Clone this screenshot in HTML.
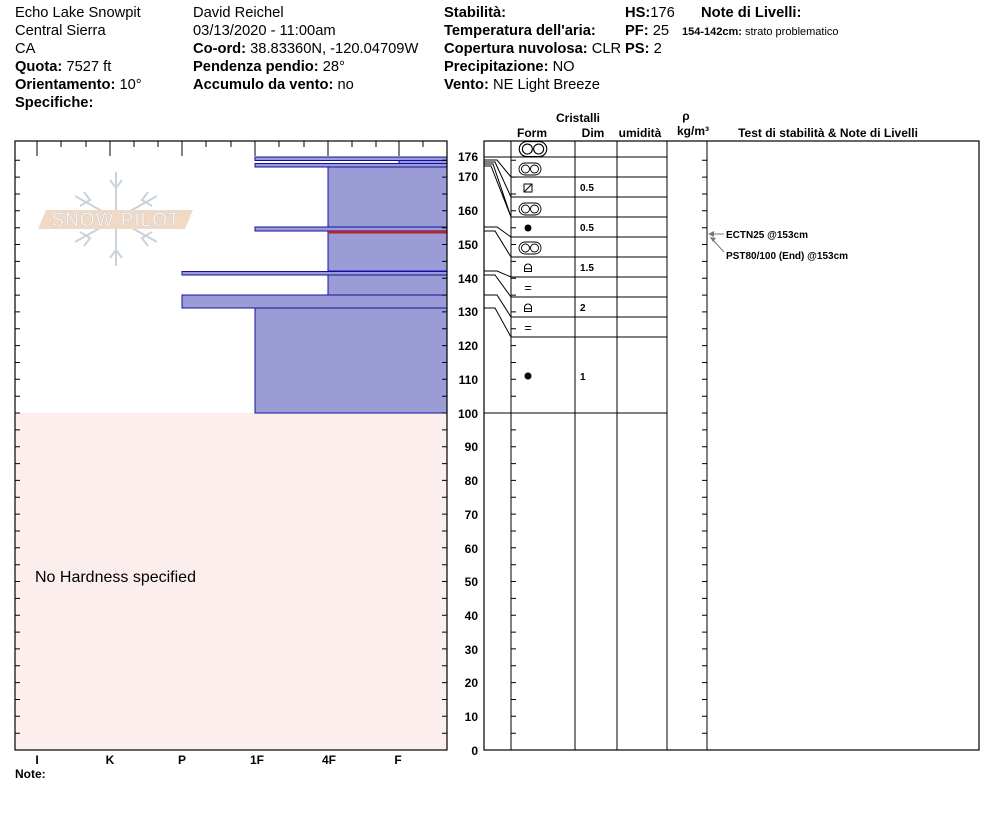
<!DOCTYPE html>
<html><head><meta charset="utf-8"><style>
html,body{margin:0;padding:0;background:#fff;}
svg{display:block;font-family:"Liberation Sans",Arial,sans-serif;}
.h{font-size:14.7px;fill:#000;}
.b{font-weight:bold;}
.d{font-size:12px;font-weight:bold;text-anchor:end;}
.s{font-size:10px;font-weight:bold;}
</style></head><body>
<svg width="994" height="840" viewBox="0 0 994 840" xmlns="http://www.w3.org/2000/svg">
<defs>
<g id="fc" fill="none" stroke="#000" stroke-width="0.9">
<rect x="-11" y="-6" width="22" height="12" rx="6"/>
<circle cx="-4.5" cy="0" r="4"/><circle cx="4.5" cy="0" r="4"/>
</g>
<g id="cup" fill="none" stroke="#000" stroke-width="1">
<path d="M-3.5 3.5V-0.5A3.5 3.5 0 0 1 3.5 -0.5V3.5Z M-3.5 0.8H3.5"/>
</g>
</defs>
<g class="h">
<text x="15" y="17">Echo Lake Snowpit</text>
<text x="15" y="35">Central Sierra</text>
<text x="15" y="53">CA</text>
<text x="15" y="71"><tspan class="b">Quota:</tspan> 7527 ft</text>
<text x="15" y="89"><tspan class="b">Orientamento:</tspan> 10°</text>
<text x="15" y="107" class="b">Specifiche:</text>
<text x="193" y="17">David Reichel</text>
<text x="193" y="35">03/13/2020 - 11:00am</text>
<text x="193" y="53"><tspan class="b">Co-ord:</tspan> 38.83360N, -120.04709W</text>
<text x="193" y="71"><tspan class="b">Pendenza pendio:</tspan> 28°</text>
<text x="193" y="89"><tspan class="b">Accumulo da vento:</tspan> no</text>
<text x="444" y="17" class="b">Stabilità:</text>
<text x="444" y="35" class="b">Temperatura dell'aria:</text>
<text x="444" y="53"><tspan class="b">Copertura nuvolosa:</tspan> CLR</text>
<text x="444" y="71"><tspan class="b">Precipitazione:</tspan> NO</text>
<text x="444" y="89"><tspan class="b">Vento:</tspan>  NE Light Breeze</text>
<text x="625" y="17"><tspan class="b">HS:</tspan>176</text>
<text x="625" y="35"><tspan class="b">PF:</tspan> 25</text>
<text x="625" y="53"><tspan class="b">PS:</tspan> 2</text>
<text x="701" y="17" class="b">Note di Livelli:</text>
</g>
<text x="682" y="35" font-size="11"><tspan font-weight="bold">154-142cm:</tspan> strato problematico</text>

<rect x="15" y="413" width="432" height="337" fill="#fdeeee"/>
<g opacity="0.9">
<g stroke="#c5ced6" stroke-width="2" fill="none">
<path d="M116 172 V266 M75 196 L157 242 M157 196 L75 242"/>
<path d="M110 180 L116 188 L122 180 M110 258 L116 250 L122 258 M84 192 L90 200 L80 206 M148 192 L142 200 L152 206 M84 246 L90 238 L80 232 M148 246 L142 238 L152 232"/>
</g>
<polygon points="46,210 193,210 185,229 38,229" fill="#f0d5bf"/>
<text x="116" y="226" font-size="19" fill="#fff" stroke="#c8c8c8" stroke-width="0.6" text-anchor="middle" letter-spacing="1">SNOW PILOT</text>
</g>
<g fill="#9b9bd6" stroke="#1010a0" stroke-width="1">
<rect x="328" y="167" width="119" height="60"/>
<rect x="328" y="231" width="119" height="40"/>
<rect x="328" y="275" width="119" height="20"/>
<rect x="255" y="308" width="192" height="105"/>
<rect x="255" y="157" width="192" height="3.5"/>
<rect x="255" y="163.5" width="192" height="3.5"/>
<rect x="255" y="227" width="192" height="4"/>
<rect x="182" y="271.5" width="265" height="3.5"/>
<rect x="182" y="295" width="265" height="13"/>
<rect x="399" y="160.5" width="48" height="3"/>
</g>
<rect x="328" y="231" width="119" height="2.5" fill="#c02020"/>
<rect x="15" y="141" width="432" height="609" fill="none" stroke="#000" stroke-width="1.2"/>
<path stroke="#000" stroke-width="1" fill="none" d="M37 141v15M110 141v15M182 141v15M255 141v15M328 141v15M399 141v15M61 141v6M86 141v6M134 141v6M158 141v6M206 141v6M231 141v6M279 141v6M304 141v6M352 141v6M376 141v6M423 141v6"/>
<g id="lt" stroke="#000" stroke-width="1">
<path d="M15 733.2h5M15 716.3h5M15 699.5h5M15 682.6h5M15 665.8h5M15 648.9h5M15 632.1h5M15 615.2h5M15 598.4h5M15 581.5h5M15 564.7h5M15 547.8h5M15 531h5M15 514.1h5M15 497.3h5M15 480.4h5M15 463.6h5M15 446.7h5M15 429.9h5M15 413h5M15 396.2h5M15 379.3h5M15 362.5h5M15 345.6h5M15 328.8h5M15 311.9h5M15 295.1h5M15 278.2h5M15 261.4h5M15 244.5h5M15 227.7h5M15 210.8h5M15 194h5M15 177.1h5M15 160.3h5"/>
</g>
<use href="#lt" transform="translate(462,0) scale(-1,1)"/>
<use href="#lt" transform="translate(496,0)"/>
<use href="#lt" transform="translate(722,0) scale(-1,1)"/>
<text x="35" y="582" font-size="16">No Hardness specified</text>
<g font-size="12" font-weight="bold" text-anchor="middle">
<text x="37" y="764">I</text><text x="110" y="764">K</text><text x="182" y="764">P</text>
<text x="257" y="764">1F</text><text x="329" y="764">4F</text><text x="398" y="764">F</text>
</g>
<text x="15" y="778" font-size="12" font-weight="bold">Note:</text>

<g class="d">
<text x="478" y="161">176</text><text x="478" y="181">170</text><text x="478" y="215">160</text>
<text x="478" y="249">150</text><text x="478" y="283">140</text><text x="478" y="316">130</text>
<text x="478" y="350">120</text><text x="478" y="384">110</text><text x="478" y="418">100</text>
<text x="478" y="451">90</text><text x="478" y="485">80</text><text x="478" y="519">70</text>
<text x="478" y="553">60</text><text x="478" y="586">50</text><text x="478" y="620">40</text>
<text x="478" y="654">30</text><text x="478" y="687">20</text><text x="478" y="721">10</text>
<text x="478" y="755">0</text>
</g>

<rect x="484" y="141" width="495" height="609" fill="none" stroke="#000" stroke-width="1.2"/>
<path stroke="#000" stroke-width="1" fill="none" d="M511 141V750M575 141V750M617 141V750M667 141V750M707 141V750
M511 157H667M511 177H667M511 197H667M511 217H667M511 237H667M511 257H667M511 277H667M511 297H667M511 317H667M511 337H667M484 413H667
M484 157H511M484 160H497L511 177M484 162H495L511 197M484 164H493L511 217M484 166H491L511 217M484 227H497L511 237M484 231H495L511 257M484 271H497L511 277M484 275H495L511 297M484 295H497L511 317M484 308H495L511 337"/>
<g font-size="12" font-weight="bold" text-anchor="middle">
<text x="578" y="122">Cristalli</text>
<text x="532" y="137">Form</text><text x="593" y="137">Dim</text><text x="640" y="137">umidità</text>
<text x="686" y="120">ρ</text><text x="693" y="135">kg/m³</text>
<text x="828" y="137">Test di stabilità &amp; Note di Livelli</text>
</g>
<use href="#fc" transform="translate(533,149) scale(1.25)"/>
<use href="#fc" transform="translate(530,169)"/>
<g fill="none" stroke="#000" stroke-width="1"><rect x="524" y="184" width="8" height="8"/><path d="M524 192L532 184"/></g>
<use href="#fc" transform="translate(530,209)"/>
<circle cx="528" cy="228" r="3.5"/>
<use href="#fc" transform="translate(530,248)"/>
<use href="#cup" transform="translate(528,268)"/>
<text x="528" y="292" font-size="13" text-anchor="middle">=</text>
<use href="#cup" transform="translate(528,308)"/>
<text x="528" y="332" font-size="13" text-anchor="middle">=</text>
<circle cx="528" cy="376" r="3.5"/>
<g class="s">
<text x="580" y="191">0.5</text><text x="580" y="231">0.5</text><text x="580" y="271">1.5</text>
<text x="580" y="311">2</text><text x="580" y="380">1</text>
</g>
<path stroke="#777" fill="none" d="M709 234H724M711 238L724 252"/>
<path fill="#777" d="M708 234l6-3v6zM710 237l6 1-3 4z"/>
<text x="726" y="238" class="s">ECTN25 @153cm</text>
<text x="726" y="259" class="s">PST80/100 (End) @153cm</text>
</svg>
</body></html>
